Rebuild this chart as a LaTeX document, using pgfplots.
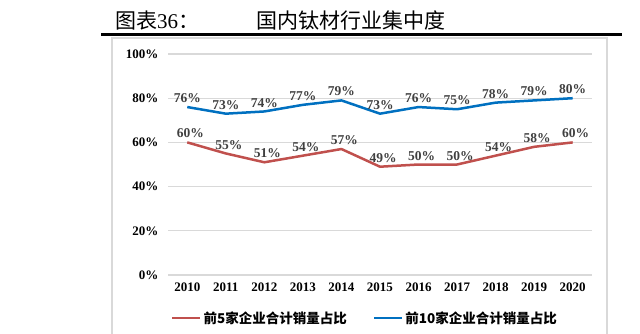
\documentclass[border=0pt]{standalone}
\usepackage{pgfplots}
\pgfplotsset{compat=1.18}
\usepackage{fontspec}
\setmainfont{Liberation Serif}
\newfontfamily\cjk{Noto Sans CJK SC}
\definecolor{redl}{HTML}{C0504D}
\definecolor{bluel}{HTML}{0070C0}
\definecolor{gridc}{HTML}{D9D9D9}
\definecolor{lab}{HTML}{404040}
\begin{document}
\begin{tikzpicture}[x=1pt,y=1pt]
\useasboundingbox (0,0) rectangle (640,333);
\draw[gridc, line width=1.2] (112,-2) rectangle (607,295);
\draw[black, line width=3] (101,299) -- (622,299);
\node[anchor=base west, inner sep=0, font=\fontsize{21}{21}\selectfont] at (115,305) {{\cjk 图表}36{\cjk ：}};
\node[anchor=base west, inner sep=0, font=\fontsize{21}{21}\selectfont\cjk] at (256,305) {国内钛材行业集中度};
\begin{axis}[
 at={(168pt,58pt)}, anchor=south west, scale only axis, width=424pt, height=221pt,
 xmin=2009.5, xmax=2020.5, ymin=0, ymax=100,
 xtick={2010,...,2020}, ytick={0,20,...,100},
 axis line style={draw=none}, tick style={draw=none},
 ymajorgrids, grid style={gridc, line width=1.2pt},
 /pgf/number format/assume math mode=true,
 xticklabel style={font=\fontsize{13}{13}\selectfont\bfseries, /pgf/number format/1000 sep={}, yshift=-4pt},
 yticklabel style={font=\fontsize{13}{13}\selectfont\bfseries, xshift=-6pt},
 yticklabel={\pgfmathprintnumber{\tick}\%},
 clip=false,
 nodes near coords={\pgfmathprintnumber{\pgfplotspointmeta}\%},
 every node near coord/.append style={font=\fontsize{13.5}{14}\selectfont\bfseries, text=lab, inner sep=1pt, yshift=2pt},
 legend columns=2,
 legend style={draw=none, fill=none, at={(0.0,-0.195)}, anchor=west, font=\cjk\bfseries\fontsize{13.5}{14}\selectfont, /tikz/every even column/.append style={column sep=24pt}},
 legend image code/.code={\draw[#1,line width=2.5pt] (0,0) -- (28pt,0);},
]
\addplot[redl, line width=2.5pt, line join=round, every node near coord/.append style={xshift=3pt}] coordinates {
(2010,60) (2011,55) (2012,51) (2013,54) (2014,57) (2015,49) (2016,50) (2017,50) (2018,54) (2019,58) (2020,60)};
\addlegendentry{前5家企业合计销量占比}
\addplot[bluel, line width=2.5pt, line join=round] coordinates {
(2010,76) (2011,73) (2012,74) (2013,77) (2014,79) (2015,73) (2016,76) (2017,75) (2018,78) (2019,79) (2020,80)};
\addlegendentry{前10家企业合计销量占比}
\end{axis}
\end{tikzpicture}
\end{document}
